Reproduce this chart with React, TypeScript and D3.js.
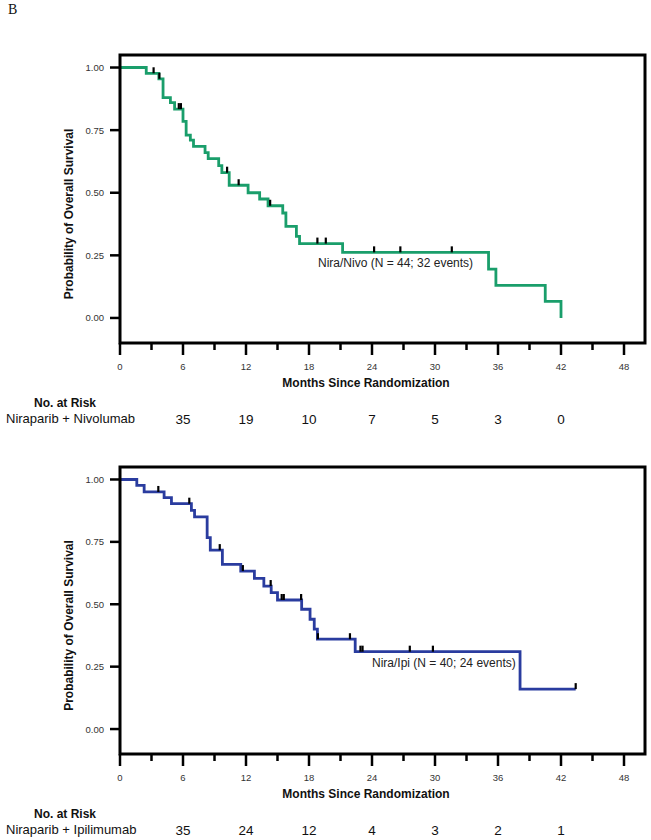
import * as d3 from 'd3';
import React from 'react';

// Kaplan-Meier steps: event time (months) and survival after the drop
const nivoTimes = [2.5, 3.7, 4.1, 4.8, 5.2, 6.0, 6.3, 6.7, 7.0, 8.1, 8.4, 9.4, 9.7, 10.4, 12.2, 13.3, 14.1, 15.5, 15.8, 16.8, 17.1, 21.2, 35.1, 35.8, 40.5, 42.0];
const nivoSurv = [0.977, 0.955, 0.88, 0.86, 0.834, 0.785, 0.73, 0.71, 0.685, 0.66, 0.636, 0.608, 0.58, 0.53, 0.5, 0.475, 0.448, 0.419, 0.366, 0.326, 0.297, 0.262, 0.195, 0.13, 0.066, 0.0];
const nivoCensor = [3.2, 3.75, 5.6, 5.8, 10.2, 11.3, 14.3, 18.8, 19.6, 24.2, 26.7, 31.6];
const nivoEnd = 42.0;

const ipiTimes = [1.6, 2.3, 4.2, 4.9, 6.8, 7.1, 8.3, 8.6, 9.75, 11.5, 12.8, 13.7, 14.4, 15.0, 17.3, 18.1, 18.5, 18.8, 22.4, 38.1];
const ipiSurv = [0.976, 0.95, 0.927, 0.903, 0.876, 0.85, 0.767, 0.717, 0.66, 0.633, 0.604, 0.573, 0.547, 0.517, 0.48, 0.44, 0.4, 0.36, 0.31, 0.16];
const ipiCensor = [3.65, 6.6, 9.5, 11.7, 14.35, 15.4, 15.6, 17.25, 18.85, 21.9, 22.9, 23.1, 27.6, 29.8, 43.4];
const ipiEnd = 43.4;

const riskMonths = [6, 12, 18, 24, 30, 36, 42];
const nivoRisk = [35, 19, 10, 7, 5, 3, 0];
const ipiRisk = [35, 24, 12, 4, 3, 2, 1];

const majorTicks = [0, 6, 12, 18, 24, 30, 36, 42, 48];
const minorTicks = [3, 9, 15, 21, 27, 33, 39, 45];
const yTicks = [1, 0.75, 0.5, 0.25, 0];

const SANS = '"Liberation Sans", Arial, sans-serif';

interface PanelProps {
  top: number;
  bottom: number;
  times: number[];
  surv: number[];
  censor: number[];
  end: number;
  color: string;
  label: string;
  labelX: number;
  labelY: number;
  riskName: string;
  risk: number[];
}

const Panel = ({top, bottom, times, surv, censor, end, color, label, labelX, labelY, riskName, risk}: PanelProps) => {
  const x = d3.scaleLinear().domain([0, 50]).range([120, 645]);
  const y = d3.scaleLinear().domain([-0.1, 1.05]).range([bottom, top]);

  const pts: [number, number][] = [[0, 1], ...times.map((t, i) => [t, surv[i]] as [number, number])];
  if (end > times[times.length - 1]) pts.push([end, surv[surv.length - 1]]);
  const line = d3.line<[number, number]>()
    .x(d => x(d[0]))
    .y(d => y(d[1]))
    .curve(d3.curveStepAfter);

  const survAt = (t: number) => {
    let s = 1;
    times.forEach((tt, i) => { if (tt <= t) s = surv[i]; });
    return s;
  };

  const midY = (top + bottom) / 2;

  return (
    <g>
      <path d={line(pts) || ''} fill="none" stroke={color} strokeWidth={2.8} />
      {censor.map((t, i) => (
        <line key={'c' + i} x1={x(t)} x2={x(t)} y1={y(survAt(t))} y2={y(survAt(t)) - 6} stroke="#000" strokeWidth={2.2} />
      ))}
      <rect x={120} y={top} width={525} height={bottom - top} fill="none" stroke="#000" strokeWidth={3} />
      {yTicks.map(v => (
        <g key={'y' + v}>
          <line x1={110} x2={120} y1={y(v)} y2={y(v)} stroke="#000" strokeWidth={2.5} />
          <text x={104} y={y(v) + 3.5} textAnchor="end" fontSize={9.5} fill="#333" fontFamily={SANS}>{v.toFixed(2)}</text>
        </g>
      ))}
      {majorTicks.map(m => (
        <g key={'x' + m}>
          <line x1={x(m)} x2={x(m)} y1={bottom} y2={bottom + 12} stroke="#000" strokeWidth={2.5} />
          <text x={x(m)} y={bottom + 27} textAnchor="middle" fontSize={9.5} fill="#333" fontFamily={SANS}>{m}</text>
        </g>
      ))}
      {minorTicks.map(m => (
        <line key={'m' + m} x1={x(m)} x2={x(m)} y1={bottom} y2={bottom + 7} stroke="#000" strokeWidth={2.5} />
      ))}
      <text transform={`translate(73,${midY + 15}) rotate(-90)`} textAnchor="middle" fontSize={12} fontWeight="bold" fontFamily={SANS} fill="#111">
        Probability of Overall Survival
      </text>
      <text x={366} y={bottom + 44} textAnchor="middle" fontSize={12} fontWeight="bold" fontFamily={SANS} fill="#111">
        Months Since Randomization
      </text>
      <text x={labelX} y={labelY} fontSize={12} fontFamily={SANS} fill="#222">{label}</text>
      <text x={65} y={bottom + 64} textAnchor="middle" fontSize={12} fontWeight="bold" fontFamily={SANS} fill="#111">No. at Risk</text>
      <text x={6} y={bottom + 80} fontSize={13} fontFamily={SANS} fill="#111">{riskName}</text>
      {riskMonths.map((m, i) => (
        <text key={'r' + m} x={x(m)} y={bottom + 81} textAnchor="middle" fontSize={13.5} fontFamily={SANS} fill="#111">{risk[i]}</text>
      ))}
    </g>
  );
};

export default function App() {
  return (
    <div style={{position: 'absolute', left: 0, top: 0}}>
      <svg width={651} height={840} style={{display: 'block', background: '#fff'}}>
        <text x={8} y={14} fontSize={14} fontFamily='"Liberation Serif", "Times New Roman", serif' fill="#111">B</text>
        <Panel top={55} bottom={343} times={nivoTimes} surv={nivoSurv} censor={nivoCensor} end={nivoEnd}
          color="#1a9e6b" label="Nira/Nivo (N = 44; 32 events)" labelX={318} labelY={267}
          riskName="Niraparib + Nivolumab" risk={nivoRisk} />
        <Panel top={467} bottom={754} times={ipiTimes} surv={ipiSurv} censor={ipiCensor} end={ipiEnd}
          color="#2a3c9f" label="Nira/Ipi (N = 40; 24 events)" labelX={372} labelY={667}
          riskName="Niraparib + Ipilimumab" risk={ipiRisk} />
      </svg>
    </div>
  );
}
